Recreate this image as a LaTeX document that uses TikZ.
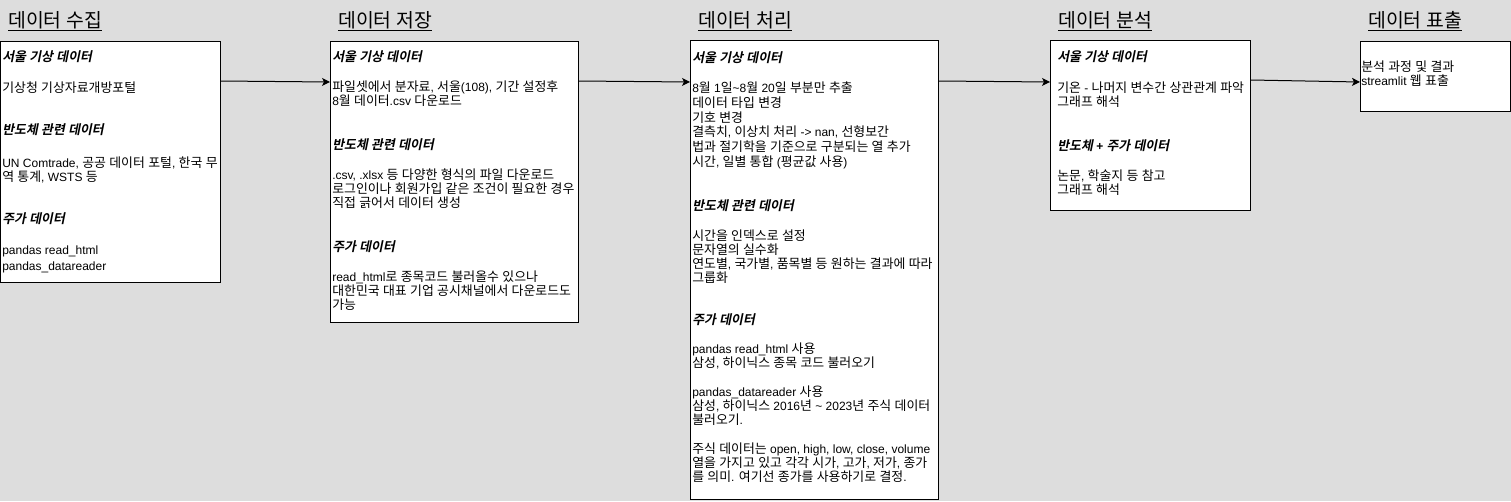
\documentclass[tikz,border=0pt]{standalone}
\usepackage{fontspec}
\setmainfont{Liberation Sans}
\newfontfamily\krfont{Noto Sans CJK KR}[Scale=1.075, ItalicFont=Noto Sans CJK KR, ItalicFeatures={FakeSlant=0.2}, BoldItalicFont=Noto Sans CJK KR Bold, BoldItalicFeatures={FakeSlant=0.2}]
% Hangul syllables go to the Korean family
\XeTeXinterchartokenstate=1
\newXeTeXintercharclass\hangulclass
\count255="AC00
\loop\XeTeXcharclass\count255=\hangulclass\ifnum\count255<"D7A3 \advance\count255 by 1 \repeat
\XeTeXinterchartoks 0 \hangulclass = {\begingroup\krfont}
\XeTeXinterchartoks 4095 \hangulclass = {\begingroup\krfont}
\XeTeXinterchartoks \hangulclass 0 = {\endgroup}
\XeTeXinterchartoks \hangulclass 4095 = {\endgroup}
\usetikzlibrary{calc,arrows.meta}
\definecolor{canvas}{RGB}{221,221,221}

\begin{document}
\begin{tikzpicture}[x=0.75pt, y=-0.75pt,
		stage/.style={draw, fill=white, line width=0.75pt, anchor=north west, inner sep=0pt},
		stagetitle/.style={anchor=base west, inner sep=0pt, font=\fontsize{13.5pt}{17pt}\selectfont},
		sechead/.style={anchor=base west, inner sep=0pt, font=\fontsize{9pt}{10.5pt}\selectfont\bfseries\itshape},
		secbody/.style={anchor=base west, inner sep=0pt, align=left, font=\fontsize{9pt}{10.5pt}\selectfont},
		flow/.style={line width=0.75pt, -{Stealth[length=6pt, width=6pt, inset=1.5pt]}}]
				% Canvas:
				\fill[canvas] (0, 0) rectangle (1511, 501);
				\useasboundingbox (0, 0) rectangle (1511, 501);
				% Stages:
				\node[stage, minimum width=220*0.75pt, minimum height=241*0.75pt] (collect) at (0, 41){};
				\node[stage, minimum width=248*0.75pt, minimum height=281*0.75pt] (store) at (330, 41){};
				\node[stage, minimum width=248*0.75pt, minimum height=459*0.75pt] (process) at (690, 40){};
				\node[stage, minimum width=200*0.75pt, minimum height=170*0.75pt] (analyse) at (1050, 40){};
				\node[stage, minimum width=150*0.75pt, minimum height=70*0.75pt] (show) at (1360, 41){};
				% Titles:
				\node[stagetitle] (collect title) at (8, 27){\underline{데이터 수집}};
				\node[stagetitle] (store title) at (338, 27){\underline{데이터 저장}};
				\node[stagetitle] (process title) at (698, 27){\underline{데이터 처리}};
				\node[stagetitle] (analyse title) at (1058, 27){\underline{데이터 분석}};
				\node[stagetitle] (show title) at (1368, 27){\underline{데이터 표출}};
				% Collect (body nodes sit on the baseline of their last line):
				\node[sechead] (collect h1) at (2, 61){서울 기상 데이터};
				\node[secbody] (collect t1) at (2, 92){기상청 기상자료개방포털};
				\node[sechead] (collect h2) at (2, 134){반도체 관련 데이터};
				\node[secbody] (collect t2) at (2, 181){UN Comtrade, 공공 데이터 포털, 한국 무\\역 통계, WSTS 등};
				\node[sechead] (collect h3) at (2, 223){주가 데이터};
				\node[secbody] (collect t3) at (2, 270){pandas read\_html\\[1.5pt]pandas\_datareader};
				% Store:
				\node[sechead] (store h1) at (332, 61){서울 기상 데이터};
				\node[secbody] (store t1) at (332, 105){파일셋에서 분자료, 서울(108), 기간 설정후\\8월 데이터.csv 다운로드};
				\node[sechead] (store h2) at (332, 149){반도체 관련 데이터};
				\node[secbody] (store t2) at (332, 207){.csv, .xlsx 등 다양한 형식의 파일 다운로드\\로그인이나 회원가입 같은 조건이 필요한 경우\\직접 긁어서 데이터 생성};
				\node[sechead] (store h3) at (332, 251){주가 데이터};
				\node[secbody] (store t3) at (332, 309){read\_html로 종목코드 불러올수 있으나\\대한민국 대표 기업 공시채널에서 다운로드도\\가능};
				% Process:
				\node[sechead] (process h1) at (692, 62){서울 기상 데이터};
				\node[secbody, font=\fontsize{9pt}{11pt}\selectfont] (process t1) at (692, 166){8월 1일\textasciitilde 8월 20일 부분만 추출\\데이터 타입 변경\\기호 변경\\결측치, 이상치 처리 -> nan, 선형보간\\법과 절기학을 기준으로 구분되는 열 추가\\시간, 일별 통합 (평균값 사용)};
				\node[sechead] (process h2) at (692, 210){반도체 관련 데이터};
				\node[secbody] (process t2) at (692, 282){시간을 인덱스로 설정\\문자열의 실수화\\연도별, 국가별, 품목별 등 원하는 결과에 따라\\그룹화};
				\node[sechead] (process h3) at (692, 324){주가 데이터};
				\node[secbody] (process t3) at (692, 367){pandas read\_html 사용\\삼성, 하이닉스 종목 코드 불러오기};
				\node[secbody] (process t4) at (692, 424){pandas\_datareader 사용\\삼성, 하이닉스 2016년 \textasciitilde\ 2023년 주식 데이터\\불러오기.};
				\node[secbody] (process t5) at (692, 481){주식 데이터는 open, high, low, close, volume\\열을 가지고 있고 각각 시가, 고가, 저가, 종가\\를 의미. 여기선 종가를 사용하기로 결정.};
				% Analyse:
				\node[sechead] (analyse h1) at (1057, 61){서울 기상 데이터};
				\node[secbody] (analyse t1) at (1057, 106){기온 - 나머지 변수간 상관관계 파악\\그래프 해석};
				\node[sechead] (analyse h2) at (1057, 150){반도체 + 주가 데이터};
				\node[secbody] (analyse t2) at (1057, 194){논문, 학술지 등 참고\\그래프 해석};
				% Show:
				\node[secbody] (show t1) at (1361, 85){분석 과정 및 결과\\streamlit 웹 표출};
				% Flow:
				\draw[flow] ($(collect.north east)+(0, 40)$) -- ($(store.north west)+(0, 41)$);
				\draw[flow] ($(store.north east)+(0, 40)$) -- ($(process.north west)+(0, 42)$);
				\draw[flow] ($(process.north east)+(0, 41)$) -- ($(analyse.north west)+(0, 42)$);
				\draw[flow] ($(analyse.north east)+(0, 40)$) -- ($(show.north west)+(0, 41)$);
			\end{tikzpicture}
\end{document}
